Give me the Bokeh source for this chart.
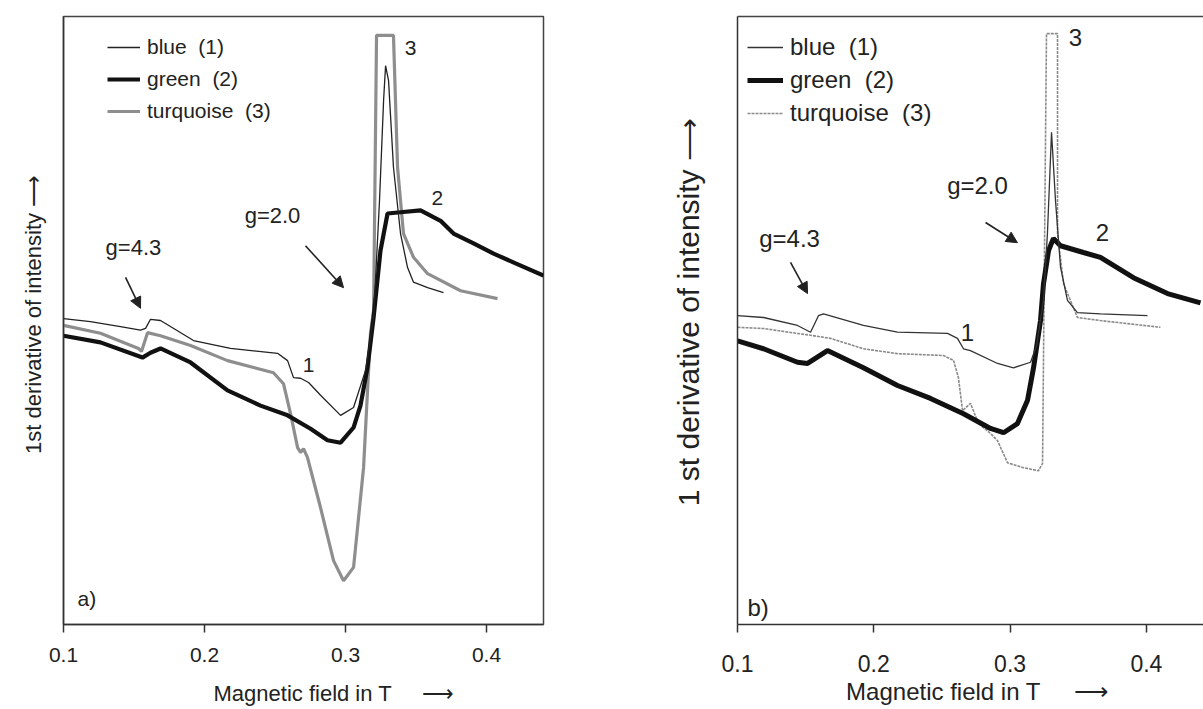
from bokeh.plotting import figure
from bokeh.models import (Range1d, Label, Arrow, NormalHead, Legend, LegendItem,
                          FixedTicker, LinearAxis)
from bokeh.layouts import row
from bokeh.embed import file_html
from bokeh.resources import INLINE

FONT = "Liberation Sans"
TXT = "#222222"
NB = "\u00a0"
ARR = "\u27f6"

# ---------------- data: panel a ----------------
X_TICKS = [0.1, 0.2, 0.3, 0.4]

A_BLUE_X = [0.1000, 0.1191, 0.1404, 0.1546, 0.1582, 0.1617, 0.1688, 0.1922, 0.2184, 0.2518,
            0.2589, 0.2631, 0.2681, 0.2738, 0.2823, 0.2965, 0.3057, 0.3142, 0.3199, 0.3241,
            0.3270, 0.3284, 0.3305, 0.3340, 0.3390, 0.3440, 0.3482, 0.3582, 0.3695]
A_BLUE_Y = [50.3, 49.8, 49.0, 48.4, 48.7, 50.2, 50.0, 46.7, 45.4, 44.6,
            43.4, 40.6, 40.5, 39.8, 37.7, 34.4, 35.7, 41.8, 50.5, 69.7,
            86.2, 91.9, 89.5, 75.2, 64.3, 58.7, 56.3, 55.4, 54.6]

A_GREEN_X = [0.1000, 0.1262, 0.1560, 0.1617, 0.1688, 0.1901, 0.2163, 0.2397, 0.2589, 0.2752,
             0.2872, 0.2965, 0.3057, 0.3106, 0.3156, 0.3199, 0.3248, 0.3298, 0.3390, 0.3532,
             0.3674, 0.3766, 0.3908, 0.4050, 0.4206, 0.4404]
A_GREEN_Y = [47.5, 46.4, 43.9, 44.7, 45.4, 43.1, 38.5, 36.0, 34.4, 32.2,
             30.3, 29.9, 32.4, 36.0, 42.3, 50.5, 61.5, 67.6, 67.8, 68.1,
             66.4, 64.3, 62.7, 61.0, 59.4, 57.4]

A_TURQ_X = [0.1000, 0.1262, 0.1532, 0.1553, 0.1596, 0.1688, 0.1901, 0.2163, 0.2489, 0.2560,
            0.2610, 0.2660, 0.2681, 0.2702, 0.2730, 0.2823, 0.2915, 0.2986, 0.3057, 0.3128,
            0.3177, 0.3199, 0.3220, 0.3340, 0.3369, 0.3411, 0.3482, 0.3582, 0.3816, 0.4078]
A_TURQ_Y = [49.2, 47.9, 45.4, 44.9, 48.0, 47.5, 45.9, 43.4, 41.4, 39.6,
            34.7, 29.1, 28.3, 28.9, 27.5, 19.2, 10.5, 7.2, 9.4, 25.8,
            47.9, 51.6, 96.9, 96.9, 75.2, 64.3, 60.4, 57.7, 54.9, 53.6]

# ---------------- data: panel b ----------------
B_BLUE_X = [0.1000, 0.1191, 0.1440, 0.1536, 0.1594, 0.1631, 0.1924, 0.2174, 0.2541, 0.2614,
            0.2658, 0.2709, 0.2908, 0.3025, 0.3150, 0.3194, 0.3245, 0.3274, 0.3304, 0.3333,
            0.3370, 0.3421, 0.3494, 0.3663, 0.4008]
B_BLUE_Y = [51.2, 50.9, 49.6, 48.5, 51.2, 51.5, 49.6, 48.5, 48.3, 47.5,
            45.8, 45.5, 43.4, 42.7, 43.6, 46.3, 53.7, 64.6, 81.1, 70.0,
            59.1, 53.7, 51.7, 51.5, 51.2]

B_GREEN_X = [0.1000, 0.1191, 0.1440, 0.1514, 0.1660, 0.1924, 0.2174, 0.2416, 0.2658, 0.2856,
             0.2952, 0.3054, 0.3128, 0.3172, 0.3223, 0.3245, 0.3282, 0.3318, 0.3370, 0.3538,
             0.3663, 0.3905, 0.4155, 0.4397]
B_GREEN_Y = [47.1, 45.8, 43.6, 43.4, 45.5, 42.7, 39.8, 37.7, 35.2, 32.8,
             32.1, 33.6, 37.4, 42.7, 50.4, 56.4, 61.8, 63.8, 62.6, 61.5,
             60.7, 57.4, 54.8, 53.3]

B_TURQ_X = [0.1000, 0.1191, 0.1440, 0.1536, 0.1682, 0.1924, 0.2174, 0.2511, 0.2585, 0.2621,
            0.2651, 0.2709, 0.2768, 0.2856, 0.2908, 0.2981, 0.3098, 0.3208, 0.3238, 0.3267,
            0.3348, 0.3348, 0.3392, 0.3494, 0.3663, 0.4103]
B_TURQ_Y = [49.3, 49.1, 48.3, 48.0, 47.5, 45.8, 45.0, 44.7, 43.9, 41.1,
            35.7, 36.9, 33.6, 32.0, 30.8, 27.2, 26.4, 25.9, 27.1, 97.2,
            97.2, 64.6, 56.4, 50.9, 50.4, 49.3]

SERIES_LABELS = ["blue  (1)", "green  (2)", "turquoise  (3)"]
X_TITLE = "Magnetic field in T"
Y_TITLE_A = "1st derivative of intensity"
Y_TITLE_B = "1 st derivative of intensity"


def style_common(p, tick_font, title_font, tick_standoff, title_standoff, ylab_standoff):
    p.grid.visible = False
    p.background_fill_color = "white"
    p.border_fill_color = "white"
    xa = p.xaxis[0]
    xa.ticker = FixedTicker(ticks=X_TICKS)
    xa.minor_tick_line_color = None
    xa.major_tick_out = 8
    xa.major_tick_in = 0
    xa.major_tick_line_width = 1.5
    xa.major_tick_line_color = "#333333"
    xa.axis_line_color = "#333333"
    xa.axis_line_width = 1.5
    xa.major_label_text_font = FONT
    xa.major_label_text_font_size = tick_font
    xa.major_label_text_color = TXT
    xa.major_label_standoff = tick_standoff
    xa.axis_label_text_font = FONT
    xa.axis_label_text_font_style = "normal"
    xa.axis_label_text_font_size = title_font
    xa.axis_label_text_color = TXT
    xa.axis_label_standoff = title_standoff
    ya = p.yaxis[0]
    ya.ticker = FixedTicker(ticks=[])
    ya.major_tick_out = 0
    ya.major_tick_in = 0
    ya.minor_tick_line_color = None
    ya.major_label_standoff = 0
    ya.axis_line_color = "#333333"
    ya.axis_line_width = 1.5
    ya.axis_label_text_font = FONT
    ya.axis_label_text_font_style = "normal"
    ya.axis_label_text_color = TXT
    ya.axis_label_standoff = ylab_standoff


def add_text(p, x, y, text, size, align="center"):
    p.add_layout(Label(x=x, y=y, text=text, text_align=align, text_baseline="middle",
                       text_font=FONT, text_font_size=size, text_color=TXT))


def add_arrow(p, x0, y0, x1, y1, size=11, width=1.6):
    p.add_layout(Arrow(x_start=x0, y_start=y0, x_end=x1, y_end=y1,
                       line_color="#222222", line_width=width,
                       end=NormalHead(size=size, fill_color="#222222", line_color="#222222")))


# ---------------- panel a ----------------
pa = figure(width=590, height=709, x_range=Range1d(0.1, 0.4404), y_range=Range1d(0, 100),
            output_backend="svg", toolbar_location=None,
            min_border_left=63, min_border_right=47, min_border_top=16, min_border_bottom=85)
style_common(pa, "21px", "22px", 15, 16, 18)
pa.xaxis[0].axis_label = NB * 10 + X_TITLE + NB * 5 + ARR
pa.yaxis[0].axis_label = NB * 2 + Y_TITLE_A + NB + ARR
pa.yaxis[0].axis_label_text_font_size = "22px"
pa.outline_line_color = "#444444"
pa.outline_line_width = 1.5
pa.outline_line_alpha = 1.0

ra3 = pa.line(A_TURQ_X, A_TURQ_Y, line_color="#8e8e8e", line_width=3.2)
ra2 = pa.line(A_GREEN_X, A_GREEN_Y, line_color="#111111", line_width=4.2)
ra1 = pa.line(A_BLUE_X, A_BLUE_Y, line_color="#222222", line_width=1.3)

leg_a = Legend(items=[LegendItem(label=SERIES_LABELS[0], renderers=[ra1]),
                      LegendItem(label=SERIES_LABELS[1], renderers=[ra2]),
                      LegendItem(label=SERIES_LABELS[2], renderers=[ra3])],
               location=(44, 501), border_line_color=None, background_fill_alpha=0,
               label_text_font=FONT, label_text_font_size="21px", label_text_color=TXT,
               glyph_width=33, glyph_height=20, spacing=8, padding=5, margin=0,
               label_standoff=7)
pa.add_layout(leg_a)

add_text(pa, 0.1496, 62.0, "g=4.3", "22px")
add_arrow(pa, 0.1440, 57.1, 0.1546, 52.0)
add_text(pa, 0.2482, 67.3, "g=2.0", "22px")
add_arrow(pa, 0.2716, 62.3, 0.2986, 55.4)
add_text(pa, 0.3461, 94.9, "3", "21px")
add_text(pa, 0.3652, 70.2, "2", "21px")
add_text(pa, 0.2738, 42.6, "1", "21px")
add_text(pa, 0.1099, 4.3, "a)", "21px", align="left")

# ---------------- panel b ----------------
pb = figure(width=613, height=709, x_range=Range1d(0.1, 0.4419), y_range=Range1d(0.82, 100),
            output_backend="svg", toolbar_location=None,
            min_border_left=147, min_border_right=0, min_border_top=16, min_border_bottom=85)
style_common(pb, "23px", "24px", 22, 3, 33)
pb.xaxis[0].axis_label = NB * 2 + X_TITLE + NB * 5 + ARR
pb.yaxis[0].axis_label = NB * 2 + Y_TITLE_B + NB + ARR
pb.yaxis[0].axis_label_text_font_size = "30px"
pb.outline_line_color = None
top_axis = LinearAxis(ticker=FixedTicker(ticks=[]), major_tick_out=0, major_tick_in=0,
                      minor_tick_line_color=None, major_label_standoff=0,
                      axis_line_color="#444444", axis_line_width=1.5)
pb.add_layout(top_axis, "above")

rb3 = pb.line(B_TURQ_X, B_TURQ_Y, line_color="#8a8a8a", line_width=1.6, line_dash="3 1")
rb2 = pb.line(B_GREEN_X, B_GREEN_Y, line_color="#111111", line_width=5)
rb1 = pb.line(B_BLUE_X, B_BLUE_Y, line_color="#333333", line_width=1.3)

leg_b = Legend(items=[LegendItem(label=SERIES_LABELS[0], renderers=[rb1]),
                      LegendItem(label=SERIES_LABELS[1], renderers=[rb2]),
                      LegendItem(label=SERIES_LABELS[2], renderers=[rb3])],
               location=(10, 497), border_line_color=None, background_fill_alpha=0,
               label_text_font=FONT, label_text_font_size="24px", label_text_color=TXT,
               glyph_width=36, glyph_height=20, spacing=5, padding=5, margin=0,
               label_standoff=7)
pb.add_layout(leg_b)

add_text(pb, 0.1382, 63.8, "g=4.3", "24px")
add_arrow(pb, 0.1389, 59.9, 0.1514, 54.8)
add_text(pb, 0.2761, 72.4, "g=2.0", "24px")
add_arrow(pb, 0.2820, 66.4, 0.3054, 63.1)
add_text(pb, 0.3480, 96.6, "3", "24px")
add_text(pb, 0.3678, 64.8, "2", "24px")
add_text(pb, 0.2687, 48.5, "1", "24px")
add_text(pb, 0.1073, 3.6, "b)", "24px", align="left")

layout = row(pa, pb)
open("out.html", "w").write(file_html(layout, INLINE))
